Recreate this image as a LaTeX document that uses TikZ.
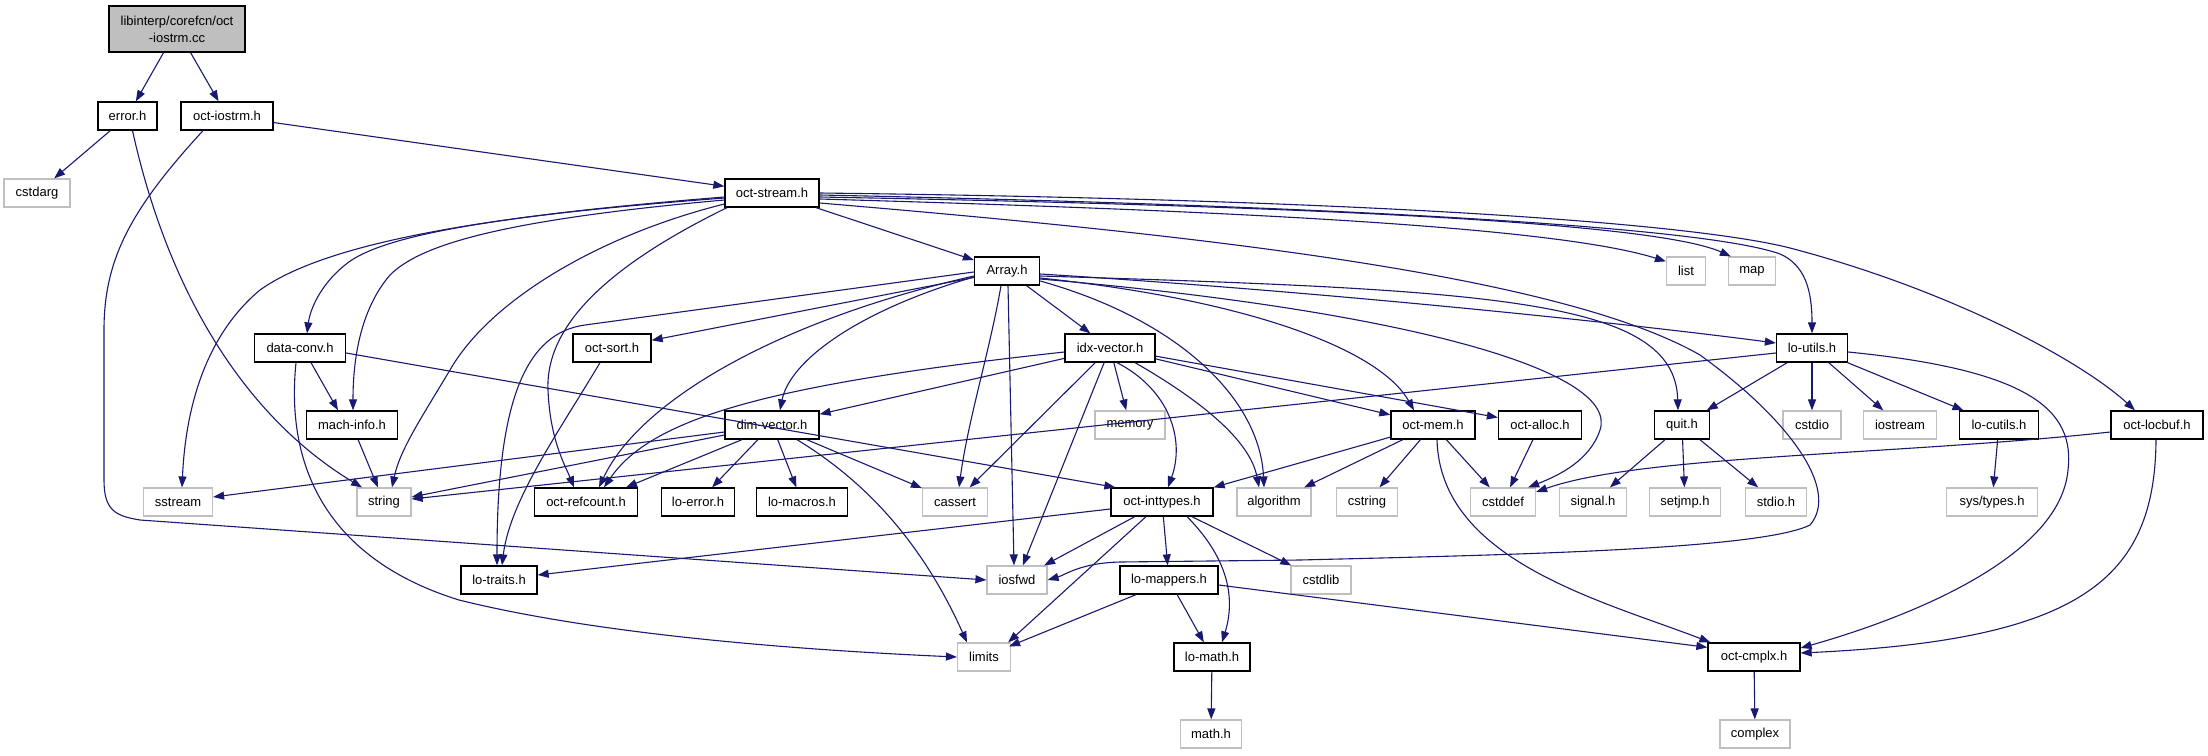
\documentclass[tikz,border=0pt]{standalone}
\usepackage{fontspec}
\setmainfont{Liberation Sans}
\usetikzlibrary{arrows.meta}
\definecolor{edgec}{HTML}{191970}
\definecolor{extc}{HTML}{BFBFBF}
\begin{document}
\begin{tikzpicture}[x=1pt,y=-1pt,
  box/.style={rectangle, inner sep=0pt, minimum height=28pt, font=\fontsize{13}{17}\selectfont, align=center},
  doc/.style={box, draw=black, line width=1.3pt, fill=white},
  ext/.style={box, draw=extc, line width=1.2pt, fill=white},
  rootbox/.style={box, draw=black, line width=1.3pt, fill=extc, minimum height=46pt},
  conn/.style={draw=edgec, line width=1.1pt, -{Triangle[length=11pt,width=8pt]}}]
\fill[white] (0,0) rectangle (2208,755);
\useasboundingbox (0,0) rectangle (2208,755);
% nodes
\node[rootbox, minimum width=136] (root) at (177,29) {libinterp/corefcn/oct\\-iostrm.cc};
\node[doc, minimum width=59] (errorh) at (127.5,116) {error.h};
\node[doc, minimum width=92] (iostrmh) at (227,116) {oct-iostrm.h};
\node[ext, minimum width=66] (cstdarg) at (37,193) {cstdarg};
\node[doc, minimum width=94] (stream) at (772,193) {oct-stream.h};
\node[doc, minimum width=65] (array) at (1007,271) {Array.h};
\node[ext, minimum width=39] (list) at (1686,271) {list};
\node[ext, minimum width=47] (map) at (1752,271) {map};
\node[doc, minimum width=91] (dataconv) at (300,348) {data-conv.h};
\node[doc, minimum width=78] (octsort) at (612,348) {oct-sort.h};
\node[doc, minimum width=90] (idxvec) at (1110,348) {idx-vector.h};
\node[doc, minimum width=71] (loutils) at (1812,348) {lo-utils.h};
\node[doc, minimum width=91] (machinfo) at (352,425) {mach-info.h};
\node[doc, minimum width=94] (dimvec) at (772,425) {dim-vector.h};
\node[ext, minimum width=70] (memory) at (1130,425) {memory};
\node[doc, minimum width=84] (octmem) at (1433,425) {oct-mem.h};
\node[doc, minimum width=83] (octalloc) at (1540,425) {oct-alloc.h};
\node[doc, minimum width=55] (quit) at (1682,425) {quit.h};
\node[ext, minimum width=58] (cstdio) at (1812,425) {cstdio};
\node[ext, minimum width=73] (iostream) at (1900,425) {iostream};
\node[doc, minimum width=79] (locutils) at (1999,425) {lo-cutils.h};
\node[doc, minimum width=92] (locbuf) at (2157,425) {oct-locbuf.h};
\node[ext, minimum width=69] (sstream) at (178,502) {sstream};
\node[ext, minimum width=54] (string) at (384,502) {string};
\node[doc, minimum width=103] (refcount) at (586,502) {oct-refcount.h};
\node[doc, minimum width=73] (loerror) at (698,502) {lo-error.h};
\node[doc, minimum width=91] (lomacros) at (802,502) {lo-macros.h};
\node[ext, minimum width=65] (cassert) at (955,502) {cassert};
\node[doc, minimum width=102] (inttypes) at (1162,502) {oct-inttypes.h};
\node[ext, minimum width=74] (algorithm) at (1274,502) {algorithm};
\node[ext, minimum width=61] (cstring) at (1367,502) {cstring};
\node[ext, minimum width=65] (cstddef) at (1503,502) {cstddef};
\node[ext, minimum width=67] (signal) at (1593,502) {signal.h};
\node[ext, minimum width=71] (setjmp) at (1685,502) {setjmp.h};
\node[ext, minimum width=61] (stdioh) at (1776,502) {stdio.h};
\node[ext, minimum width=91] (systypes) at (1992,502) {sys/types.h};
\node[doc, minimum width=76] (lotraits) at (499,580) {lo-traits.h};
\node[ext, minimum width=60] (iosfwd) at (1017,580) {iosfwd};
\node[doc, minimum width=98] (lomappers) at (1169,580) {lo-mappers.h};
\node[ext, minimum width=60] (cstdlib) at (1321,580) {cstdlib};
\node[ext, minimum width=53] (limits) at (984,657) {limits};
\node[doc, minimum width=76] (lomath) at (1212,657) {lo-math.h};
\node[doc, minimum width=92] (cmplx) at (1754,657) {oct-cmplx.h};
\node[ext, minimum width=61] (mathh) at (1211,734) {math.h};
\node[ext, minimum width=70] (complex) at (1755,734) {complex};
% edges: root, error.h, oct-iostrm.h
\draw[conn] (root) -- (errorh);
\draw[conn] (root) -- (iostrmh);
\draw[conn] (errorh) -- (cstdarg);
\draw[conn] ([xshift=5]errorh.south) .. controls (170,300) and (250,420) .. ([xshift=-22]string.north);
\draw[conn] (iostrmh) -- (stream);
\draw[conn] ([xshift=-24]iostrmh.south) .. controls (130,210) and (104,260) .. (104,330) -- (104,480) .. controls (104,510) and (115,516) .. (140,520) -- (iosfwd.west);
% oct-stream.h
\draw[conn] (stream) -- (array);
\draw[conn] ([yshift=-6]stream.east) .. controls (1200,210) and (1550,225) .. ([yshift=-5]list.north west);
\draw[conn] ([yshift=-4]stream.east) .. controls (1250,205) and (1650,220) .. ([xshift=3]map.north west);
\draw[conn] ([yshift=-2]stream.east) .. controls (1300,205) and (1700,225) .. (1780,254) .. controls (1805,265) and (1812,290) .. (loutils.north);
\draw[conn] (stream.east) .. controls (1400,200) and (1700,225) .. (1790,248) .. controls (1950,290) and (2080,360) .. ([xshift=-22]locbuf.north);
\draw[conn] ([yshift=-10]stream.east) .. controls (1200,235) and (1560,275) .. (1700,355) .. controls (1790,420) and (1840,490) .. (1810,525) .. controls (1760,550) and (1500,555) .. (1300,560) -- (1120,562) .. controls (1080,563) and (1065,575) .. (iosfwd.east);
\draw[conn] ([yshift=-4]stream.west) .. controls (500,215) and (330,240) .. (260,290) .. controls (200,340) and (185,420) .. ([xshift=4]sstream.north);
\draw[conn] ([yshift=-5]stream.west) .. controls (500,215) and (380,235) .. (345,265) .. controls (320,285) and (310,310) .. ([xshift=7]dataconv.north);
\draw[conn] ([yshift=-7]stream.west) .. controls (500,220) and (420,245) .. (390,275) .. controls (360,310) and (353,360) .. ([xshift=1]machinfo.north);
\draw[conn] ([yshift=-11]stream.west) .. controls (600,235) and (490,300) .. (450,370) .. controls (420,420) and (400,450) .. ([xshift=8]string.north);
\draw[conn] ([xshift=-45]stream.south) .. controls (620,260) and (545,320) .. (548,390) .. controls (550,440) and (565,465) .. ([xshift=-12]refcount.north);
% Array.h
\draw[conn] (array) -- (idxvec);
\draw[conn] ([yshift=-6]array.west) .. controls (860,310) and (790,360) .. ([xshift=8]dimvec.north);
\draw[conn] ([xshift=-6]array.south) .. controls (990,350) and (968,420) .. ([xshift=4]cassert.north);
\draw[conn] ([xshift=1]array.south) -- ([xshift=-3]iosfwd.north);
\draw[conn] ([yshift=-10]array.east) .. controls (1180,320) and (1260,400) .. ([xshift=-10]algorithm.north);
\draw[conn] ([yshift=-7]array.east) .. controls (1250,300) and (1380,350) .. ([xshift=-19]octmem.north);
\draw[conn] ([yshift=-3]array.east) .. controls (1300,290) and (1600,320) .. ([yshift=5]loutils.west);
\draw[conn] ([yshift=-5]array.east) .. controls (1500,290) and (1675,300) .. ([xshift=-4]quit.north);
\draw[conn] ([yshift=-8]array.east) .. controls (1400,310) and (1620,370) .. (1600,430) .. controls (1590,460) and (1560,475) .. ([xshift=-8]cstddef.north east);
\draw[conn] (array) -- (octsort);
\draw[conn] ([yshift=-1]array.west) -- (585,325) .. controls (526,333) and (497,400) .. ([xshift=-2]lotraits.north);
\draw[conn] ([yshift=-5]array.west) .. controls (780,320) and (640,400) .. ([xshift=13]refcount.north);
% idx-vector.h
\draw[conn] (idxvec) -- (memory);
\draw[conn] (idxvec) -- (dimvec);
\draw[conn] ([yshift=-4]idxvec.west) .. controls (760,385) and (650,420) .. ([xshift=18]refcount.north);
\draw[conn] (idxvec) -- (cassert);
\draw[conn] (idxvec) -- (iosfwd);
\draw[conn] ([xshift=7]idxvec.south) .. controls (1170,390) and (1185,440) .. ([xshift=6]inttypes.north);
\draw[conn] ([xshift=25]idxvec.south) .. controls (1200,400) and (1250,440) .. ([xshift=-15]algorithm.north);
\draw[conn] (idxvec) -- (octmem);
\draw[conn] (idxvec) -- (octalloc);
% data-conv.h, oct-sort.h, mach-info.h
\draw[conn] ([xshift=11]dataconv.south) -- ([xshift=-14]machinfo.north);
\draw[conn] ([xshift=-4]dataconv.south) .. controls (285,470) and (330,560) .. (459,600) .. controls (600,635) and (800,650) .. (limits.west);
\draw[conn] ([yshift=-5]dataconv.east) -- ([xshift=5]inttypes.north west);
\draw[conn] ([xshift=-12]octsort.south) .. controls (560,430) and (510,500) .. ([xshift=3]lotraits.north);
\draw[conn] (machinfo) -- (string);
% dim-vector.h
\draw[conn] ([yshift=-7]dimvec.west) -- ([yshift=5]sstream.east);
\draw[conn] ([yshift=-10]dimvec.west) -- ([yshift=5]string.east);
\draw[conn] ([xshift=-30]dimvec.south) -- ([xshift=40]refcount.north);
\draw[conn] (dimvec) -- (loerror);
\draw[conn] (dimvec) -- (lomacros);
\draw[conn] (dimvec) -- (cassert);
\draw[conn] ([xshift=25]dimvec.south) .. controls (880,490) and (930,560) .. ([xshift=-17]limits.north);
% oct-mem.h
\draw[conn] (octmem) -- (inttypes);
\draw[conn] (octmem) -- (algorithm);
\draw[conn] (octmem) -- (cstring);
\draw[conn] (octmem) -- (cstddef);
\draw[conn] ([xshift=4]octmem.south) .. controls (1440,560) and (1600,600) .. ([xshift=3]cmplx.north west);
% oct-alloc.h, quit.h, lo-utils.h, lo-cutils.h, oct-locbuf.h
\draw[conn] (octalloc) -- (cstddef);
\draw[conn] (quit) -- (signal);
\draw[conn] (quit) -- (setjmp);
\draw[conn] (quit) -- (stdioh);
\draw[conn] (loutils) -- (quit);
\draw[conn] (loutils) -- (cstdio);
\draw[conn] (loutils) -- (iostream);
\draw[conn] (loutils) -- (locutils);
\draw[conn] ([yshift=-5]loutils.west) -- ([yshift=3]string.east);
\draw[conn] ([yshift=-4]loutils.east) .. controls (2030,370) and (2075,410) .. (2068,470) .. controls (2060,560) and (1900,620) .. ([yshift=9]cmplx.east);
\draw[conn] (locutils) -- (systypes);
\draw[conn] ([yshift=-7]locbuf.west) .. controls (1900,455) and (1640,455) .. ([yshift=10]cstddef.east);
\draw[conn] ([xshift=-1]locbuf.south) .. controls (2155,580) and (2080,640) .. ([yshift=4]cmplx.east);
% oct-inttypes.h
\draw[conn] ([yshift=-7]inttypes.west) -- ([yshift=5]lotraits.east);
\draw[conn] (inttypes) -- (iosfwd);
\draw[conn] (inttypes) -- (lomappers);
\draw[conn] (inttypes) -- (cstdlib);
\draw[conn] ([xshift=-16]inttypes.south) -- ([xshift=-3]limits.north east);
\draw[conn] ([xshift=25]inttypes.south) .. controls (1230,560) and (1235,600) .. ([xshift=10]lomath.north);
% lo-mappers.h, lo-math.h, oct-cmplx.h
\draw[conn] ([xshift=-33]lomappers.south) -- ([xshift=-2,yshift=-4]limits.north east);
\draw[conn] (lomappers) -- (lomath);
\draw[conn] ([yshift=-5]lomappers.east) -- ([yshift=-5]cmplx.north west);
\draw[conn] (lomath) -- (mathh);
\draw[conn] (cmplx) -- (complex);
\end{tikzpicture}
\end{document}
